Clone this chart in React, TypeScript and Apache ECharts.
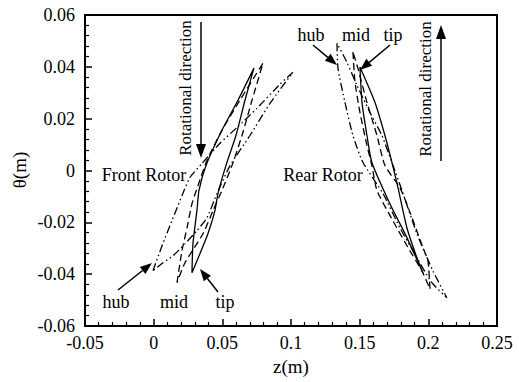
import React, { useEffect, useRef } from "react";
import * as echarts from "echarts";

// Blade profiles, [z (m), θ (m)], traced around each section (closed loop)
const frontHub: [number, number][] = [
  [-0.0005, -0.0387], [0.0061, -0.029], [0.0133, -0.0194], [0.0206, -0.0097], [0.0264, -0.0027],
  [0.0352, 0.0027], [0.0483, 0.0105], [0.0607, 0.0166], [0.0752, 0.024], [0.092, 0.0333],
  [0.1014, 0.0379], [0.0847, 0.0259], [0.0701, 0.0135], [0.0556, 0.0019], [0.0461, -0.0089],
  [0.0388, -0.0182], [0.0315, -0.0232], [0.0228, -0.0283], [0.0141, -0.0329], [0.0068, -0.0356],
  [-0.0005, -0.0387],
];
const frontMid: [number, number][] = [
  [0.017, -0.0433], [0.0206, -0.031], [0.0243, -0.0221], [0.0279, -0.0128], [0.0323, -0.0058],
  [0.0388, 0.0039], [0.0497, 0.0155], [0.0628, 0.0271], [0.0796, 0.0414], [0.0716, 0.0271],
  [0.0643, 0.0135], [0.057, 0.0019], [0.0497, -0.0077], [0.0432, -0.0155], [0.0359, -0.0244],
  [0.0228, -0.0356], [0.017, -0.0433],
];
const frontTip: [number, number][] = [
  [0.0279, -0.0395], [0.0286, -0.0283], [0.0315, -0.0155], [0.033, -0.0077], [0.0381, 0.0019],
  [0.0497, 0.0155], [0.0614, 0.0271], [0.073, 0.0395], [0.0665, 0.0271], [0.0599, 0.0135],
  [0.0526, 0.0019], [0.0468, -0.0089], [0.0446, -0.0155], [0.0395, -0.0244], [0.0337, -0.0321],
  [0.0279, -0.0395],
];
const rearHub: [number, number][] = [
  [0.1335, 0.0491], [0.1342, 0.0395], [0.1393, 0.0263], [0.1451, 0.0135], [0.1524, 0.0031],
  [0.167, -0.0089], [0.1793, -0.0221], [0.1917, -0.0337], [0.2026, -0.0433], [0.2135, -0.0491],
  [0.2033, -0.0387], [0.1917, -0.0244], [0.1808, -0.0077], [0.1735, 0.0031], [0.1662, 0.0135],
  [0.1575, 0.0224], [0.148, 0.0329], [0.1407, 0.0418], [0.1335, 0.0491],
];
const rearMid: [number, number][] = [
  [0.1451, 0.0457], [0.1466, 0.0341], [0.1502, 0.0224], [0.1553, 0.0097], [0.1589, 0.0019],
  [0.1626, -0.0077], [0.1742, -0.0194], [0.1866, -0.031], [0.1953, -0.0387], [0.2012, -0.0457],
  [0.1997, -0.0348], [0.1961, -0.0298], [0.1881, -0.0182], [0.1793, -0.0066], [0.1684, 0.0019],
  [0.1626, 0.0135], [0.1553, 0.0263], [0.1487, 0.0395], [0.1451, 0.0457],
];
const rearTip: [number, number][] = [
  [0.1502, 0.0399], [0.1517, 0.0263], [0.1553, 0.0135], [0.1589, 0.0031], [0.172, -0.0128],
  [0.1844, -0.0259], [0.1961, -0.0395], [0.1917, -0.0337], [0.1844, -0.0221], [0.1779, -0.0066],
  [0.1735, 0.0031], [0.1684, 0.0135], [0.1611, 0.0263], [0.1502, 0.0399],
];

const xTickLabels = ["-0.05", "0", "0.05", "0.1", "0.15", "0.2", "0.25"];
const yTickLabels = ["-0.06", "-0.04", "-0.02", "0", "0.02", "0.04", "0.06"];

const FONT = "'Liberation Serif', 'Times New Roman', serif";

const solid = "solid";
const dashed = [7, 4];
const dashDotDot = [8, 3, 1.5, 3, 1.5, 3];

function arrow(x1: number, y1: number, x2: number, y2: number, len = 12, half = 4.5): any[] {
  const dx = x2 - x1;
  const dy = y2 - y1;
  const d = Math.sqrt(dx * dx + dy * dy);
  const ux = dx / d;
  const uy = dy / d;
  const bx = x2 - ux * len;
  const by = y2 - uy * len;
  return [
    {
      type: "line",
      shape: { x1, y1, x2: bx, y2: by },
      style: { stroke: "#000", lineWidth: 1.5 },
    },
    {
      type: "polygon",
      shape: {
        points: [
          [x2, y2],
          [bx - uy * half, by + ux * half],
          [bx + uy * half, by - ux * half],
        ],
      },
      style: { fill: "#000" },
    },
  ];
}

function label(text: string, x: number, y: number, size = 18, rotation = 0): any {
  return {
    type: "text",
    x,
    y,
    rotation,
    style: {
      text,
      fontFamily: FONT,
      fontSize: size,
      fill: "#000",
      align: "center",
      verticalAlign: "middle",
      textAlign: "center",
      textVerticalAlign: "middle",
    },
  };
}

export default function App() {
  const ref = useRef<HTMLDivElement>(null);

  useEffect(() => {
    document.body.style.margin = "0";
    if (!ref.current) return;
    const chart = echarts.init(ref.current, undefined, { renderer: "svg" });

    const mk = (name: string, data: [number, number][], type: any) => ({
      name,
      type: "line",
      data,
      showSymbol: false,
      symbol: "none",
      smooth: 0.2,
      lineStyle: { color: "#000", width: 1.3, type },
      silent: true,
    });

    const fmt = (labels: string[], min: number, step: number) => (v: number) => {
      const i = Math.round((v - min) / step);
      return labels[i] ?? "";
    };

    chart.setOption({
      animation: false,
      backgroundColor: "#fff",
      textStyle: { fontFamily: FONT },
      grid: {
        left: 85,
        right: 22,
        top: 15,
        bottom: 56,
        show: true,
        borderColor: "#000",
        borderWidth: 2,
      },
      xAxis: {
        type: "value",
        min: -0.05,
        max: 0.25,
        interval: 0.05,
        axisLine: { show: true, onZero: false, lineStyle: { color: "#000", width: 2 } },
        axisTick: { show: true, inside: true, length: 7, lineStyle: { color: "#000", width: 1.5 } },
        minorTick: { show: true, splitNumber: 5, length: 4, lineStyle: { color: "#000", width: 1.2 } },
        splitLine: { show: false },
        axisLabel: {
          color: "#000",
          fontFamily: FONT,
          fontSize: 18,
          margin: 8,
          showMinLabel: true,
          showMaxLabel: true,
          formatter: fmt(xTickLabels, -0.05, 0.05),
        },
      },
      yAxis: {
        type: "value",
        min: -0.06,
        max: 0.06,
        interval: 0.02,
        axisLine: { show: true, onZero: false, lineStyle: { color: "#000", width: 2 } },
        axisTick: { show: true, inside: true, length: 7, lineStyle: { color: "#000", width: 1.5 } },
        minorTick: { show: true, splitNumber: 5, length: 4, lineStyle: { color: "#000", width: 1.2 } },
        splitLine: { show: false },
        axisLabel: {
          color: "#000",
          fontFamily: FONT,
          fontSize: 18,
          margin: 10,
          showMinLabel: true,
          showMaxLabel: true,
          formatter: fmt(yTickLabels, -0.06, 0.02),
        },
      },
      series: [
        mk("Front hub", frontHub, dashDotDot),
        mk("Front mid", frontMid, dashed),
        mk("Front tip", frontTip, solid),
        mk("Rear hub", rearHub, dashDotDot),
        mk("Rear mid", rearMid, dashed),
        mk("Rear tip", rearTip, solid),
      ],
      graphic: [
        label("z(m)", 291, 366, 19),
        label("θ(m)", 19, 170, 19, Math.PI / 2),
        label("Front Rotor", 144, 175),
        label("Rear Rotor", 323, 175),
        label("Rotational direction", 185, 88, 17, Math.PI / 2),
        label("Rotational direction", 425, 89, 17, Math.PI / 2),
        label("hub", 311, 35),
        label("mid", 356, 35),
        label("tip", 393, 35),
        label("hub", 116, 302),
        label("mid", 174, 302),
        label("tip", 225, 302),
        ...arrow(201, 22, 201, 158, 14, 5),
        ...arrow(441, 161, 441, 25, 14, 5),
        ...arrow(313, 45, 337, 65),
        ...arrow(390, 45, 360, 70),
        ...arrow(118, 290, 152, 263),
        ...arrow(218, 292, 200, 269),
      ],
    });

    return () => chart.dispose();
  }, []);

  return <div ref={ref} style={{ width: 519, height: 382 }} />;
}
